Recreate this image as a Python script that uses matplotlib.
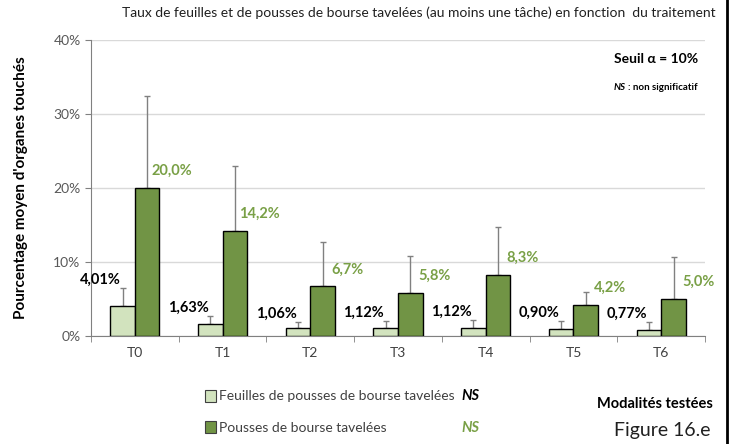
import numpy as np
import matplotlib.pyplot as plt

plt.rcParams['font.family'] = ['Lato', 'DejaVu Sans']

# data
traitements = ['T0', 'T1', 'T2', 'T3', 'T4', 'T5', 'T6']
feuilles = [4.01, 1.63, 1.06, 1.12, 1.12, 0.90, 0.77]
feuilles_err = [2.5, 1.07, 0.84, 0.9, 1.0, 1.1, 1.1]
pousses = [20.0, 14.2, 6.7, 5.8, 8.3, 4.2, 5.0]
pousses_err = [12.4, 8.8, 6.0, 5.0, 6.4, 1.7, 5.7]
lab_feuilles = ['4,01%', '1,63%', '1,06%', '1,12%', '1,12%', '0,90%', '0,77%']
lab_pousses = ['20,0%', '14,2%', '6,7%', '5,8%', '8,3%', '4,2%', '5,0%']

light = '#D2E3BE'
dark = '#719445'
green_txt = '#79A046'

fig = plt.figure(figsize=(7.36, 4.44), dpi=100)
ax = fig.add_axes([0.1236, 0.2432, 0.8344, 0.6668])

x = np.arange(len(traitements))
w = 0.28
ax.bar(x - w/2, feuilles, w, color=light, edgecolor='black', linewidth=1, zorder=3)
ax.bar(x + w/2, pousses, w, color=dark, edgecolor='black', linewidth=1, zorder=3)
# upper error bars only
ax.errorbar(x - w/2, feuilles, yerr=[np.zeros(7), feuilles_err], fmt='none',
            ecolor='#808080', elinewidth=1, capsize=2.5, zorder=2)
ax.errorbar(x + w/2, pousses, yerr=[np.zeros(7), pousses_err], fmt='none',
            ecolor='#808080', elinewidth=1, capsize=2.5, zorder=2)

for i in range(len(x)):
    ax.text(x[i] - w - 0.11, feuilles[i] + feuilles_err[i] + 1.1, lab_feuilles[i],
            ha='center', va='center', fontsize=10.5, fontweight='bold', color='black', zorder=4)
    ax.text(x[i] + w + 0.14, pousses[i] + 2.3, lab_pousses[i],
            ha='center', va='center', fontsize=10.5, fontweight='bold', color=green_txt, zorder=4)

ax.set_xlim(-0.5, 6.5)
ax.set_ylim(0, 40)
ax.set_yticks([0, 10, 20, 30, 40])
ax.set_yticklabels(['0%', '10%', '20%', '30%', '40%'], fontsize=10, color='#595959')
ax.set_xticks(x)
ax.set_xticklabels(traitements, fontsize=10, color='#404040')
ax.set_xticks(np.arange(-0.5, 7, 1), minor=True)
ax.tick_params(axis='x', which='major', length=0, pad=8)
ax.tick_params(axis='x', which='minor', length=4, color='#808080')
ax.tick_params(axis='y', length=4, color='#808080')
ax.yaxis.grid(True, color='#D9D9D9', linewidth=1, zorder=0)
for s in ['top', 'right']:
    ax.spines[s].set_visible(False)
ax.spines['left'].set_color('#808080')
ax.spines['bottom'].set_color('#808080')

ax.set_ylabel("Pourcentage moyen d'organes touchés", fontsize=11, fontweight='bold', labelpad=10)
ax.yaxis.set_label_coords(-0.103, 0.5)

fig.text(0.569, 0.972, 'Taux de feuilles et de pousses de bourse tavelées (au moins une tâche) en fonction  du traitement',
         ha='center', va='center', fontsize=10, color='#202020')

fig.text(0.948, 0.866, 'Seuil α = 10%', ha='right', va='center', fontsize=10, fontweight='bold')
fig.text(0.948, 0.803, ': non significatif', ha='right', va='center', fontsize=7, fontweight='bold')
fig.text(0.850, 0.803, 'NS', ha='right', va='center', fontsize=7, fontweight='bold', style='italic')

# legend
fig.patches.append(plt.Rectangle((0.279, 0.095), 0.014, 0.027, transform=fig.transFigure,
                                 facecolor=light, edgecolor='#404040', linewidth=0.8))
fig.patches.append(plt.Rectangle((0.279, 0.024), 0.014, 0.027, transform=fig.transFigure,
                                 facecolor=dark, edgecolor='#404040', linewidth=0.8))
fig.text(0.298, 0.108, 'Feuilles de pousses de bourse tavelées', ha='left', va='center',
         fontsize=10, color='#404040')
fig.text(0.298, 0.037, 'Pousses de bourse tavelées', ha='left', va='center',
         fontsize=10, color='#404040')
fig.text(0.627, 0.108, 'NS', ha='left', va='center', fontsize=10.5, fontweight='bold',
         style='italic', color='black')
fig.text(0.627, 0.037, 'NS', ha='left', va='center', fontsize=10.5, fontweight='bold',
         style='italic', color=green_txt)

fig.text(0.968, 0.090, 'Modalités testées', ha='right', va='center', fontsize=10.5, fontweight='bold')
fig.text(0.966, 0.030, 'Figure 16.e', ha='right', va='center', fontsize=14, color='#202020')

# right border line
fig.add_artist(plt.Line2D([0.988, 0.988], [0, 1], transform=fig.transFigure, color='black', linewidth=2))

fig.savefig('out.png', dpi=100)
